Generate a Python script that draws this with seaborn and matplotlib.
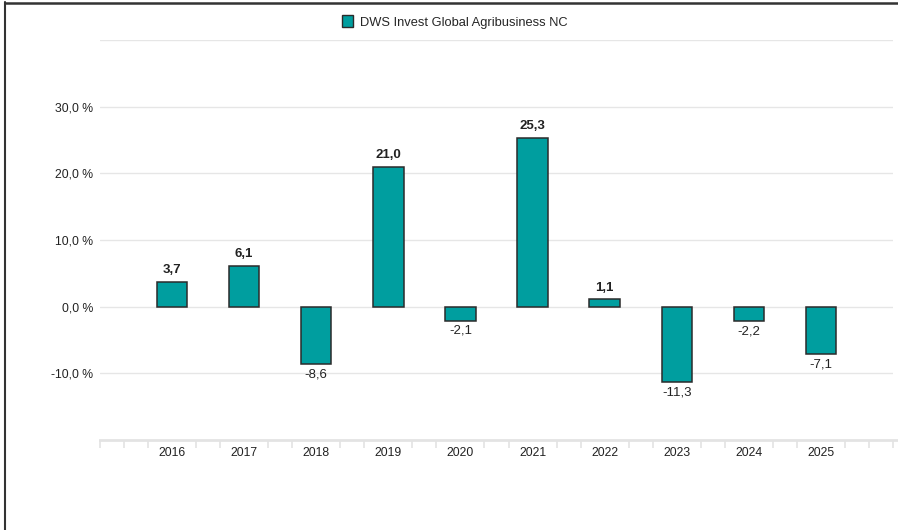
import matplotlib
matplotlib.use("Agg")
import matplotlib.pyplot as plt
import seaborn as sns
import pandas as pd
import numpy as np
from matplotlib.lines import Line2D
from matplotlib.patches import Patch

years = ["2016", "2017", "2018", "2019", "2020", "2021", "2022", "2023", "2024", "2025"]
returns = [3.7, 6.1, -8.6, 21.0, -2.1, 25.3, 1.1, -11.3, -2.2, -7.1]
series_name = "DWS Invest Global Agribusiness NC"
ytick_vals = [-20, -10, 0, 10, 20, 30, 40]
ytick_labels = ["", "-10,0 %", "0,0 %", "10,0 %", "20,0 %", "30,0 %", ""]

sns.set_theme(style="white")
plt.rcParams["font.family"] = ["Liberation Sans", "DejaVu Sans"]

W, H = 898, 530
fig = plt.figure(figsize=(W / 100, H / 100), dpi=100)
ax = fig.add_axes([100 / W, 1 - 440 / H, (893 - 100) / W, 400 / H])

bar_color = "#009e9f"
df = pd.DataFrame({"year": years, "ret": returns})
sns.barplot(data=df, x="year", y="ret", order=years, color=bar_color, saturation=1,
            width=0.42, edgecolor="#2b2b2b", linewidth=1.1, ax=ax, zorder=3)

ax.set_xlim(-1, 10)
ax.set_ylim(-20, 40)
ax.set_yticks(ytick_vals)
ax.set_yticklabels(ytick_labels, fontsize=8.8, color="#222222")
ax.tick_params(axis="y", length=0, pad=5)
for v in ytick_vals[1:]:
    ax.axhline(v, color="#e6e6e6", lw=1, zorder=1)

for s in ["top", "right", "left"]:
    ax.spines[s].set_visible(False)
ax.spines["bottom"].set_color("#e3e3e3")
ax.spines["bottom"].set_linewidth(2)
ax.spines["bottom"].set_bounds(-1, 10.05)

ax.set_xlabel("")
ax.set_ylabel("")
ax.tick_params(axis="x", length=0, pad=5, labelsize=8.8, colors="#222222")
minor = [i / 3 for i in range(-3, 31) if i % 3 != 0] + [-1, 10]
ax.set_xticks(minor, minor=True)
ax.tick_params(axis="x", which="minor", bottom=True, length=6, width=1.2,
               color="#e3e3e3", direction="out")

for i, v in enumerate(returns):
    txt = f"{v:.1f}".replace(".", ",")
    if v >= 0:
        ax.annotate(txt, (i, v), xytext=(0, 4), textcoords="offset points",
                    ha="center", va="bottom", fontsize=9.5, fontweight="bold", color="#222222")
    else:
        ax.annotate(txt, (i, v), xytext=(0, -3), textcoords="offset points",
                    ha="center", va="top", fontsize=9.5, color="#222222")

handle = Patch(facecolor=bar_color, edgecolor="#2b2b2b", linewidth=1)
fig.legend([handle], [series_name], loc="center", bbox_to_anchor=(455 / W, 1 - 22 / H),
           frameon=False, fontsize=9.3, handlelength=0.85, handleheight=0.95, handletextpad=0.5)

fig.add_artist(Line2D([5 / W, 5 / W], [0, 1 - 2 / H], transform=fig.transFigure, color="#333333", lw=1.5))
fig.add_artist(Line2D([5 / W, 1], [1 - 2.5 / H, 1 - 2.5 / H], transform=fig.transFigure, color="#333333", lw=1.8))

fig.savefig("out.png", dpi=100, facecolor="white")
